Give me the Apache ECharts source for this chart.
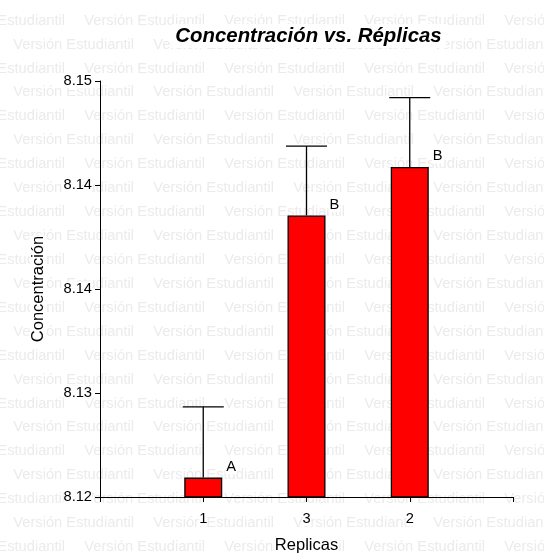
<!DOCTYPE html>
<html><head><meta charset="utf-8">
<script src="https://cdn.jsdelivr.net/npm/echarts@6/dist/echarts.min.js"></script>
<style>html,body{margin:0;padding:0;background:#fff}#c{width:544px;height:559px}</style>
</head><body><div id="c"></div>
<script>
const categories = ['1', '3', '2'];
const means = [8.1214, 8.1403, 8.1438];
const errors = [0.0051, 0.0050, 0.0050];
const groups = ['A', 'B', 'B'];
const yTickValues = [8.12, 8.1275, 8.135, 8.1425, 8.15];
const yTickLabels = ['8.12', '8.13', '8.14', '8.14', '8.15'];
const titleText = 'Concentración vs. Réplicas';
const xName = 'Replicas';
const yName = 'Concentración';
const watermark = 'Versión Estudiantil';

const FONT = '"Liberation Sans", Arial, Helvetica, sans-serif';
const xData = [''].concat(categories, ['']);
const barData = [null].concat(means, [null]);
const errData = categories.map((c, i) => [i + 1, means[i], means[i] + errors[i]]);

function labelFor(v) {
  let best = 0;
  for (let i = 1; i < yTickValues.length; i++) {
    if (Math.abs(yTickValues[i] - v) < Math.abs(yTickValues[best] - v)) best = i;
  }
  return yTickLabels[best];
}

const wm = [];
for (let k = 0; k <= 22; k++) {
  const y = 20.6 + 23.93 * k;
  const x0 = (k % 2 === 0) ? 84.3 - 140 : 13.3;
  for (let x = x0; x < 544; x += 140) {
    wm.push({
      type: 'text', x: x, y: y, z: -10, silent: true,
      style: { text: watermark, fill: '#ebebeb', fontSize: 14.7, fontFamily: FONT, verticalAlign: 'middle', align: 'left' }
    });
  }
}

const chart = echarts.init(document.getElementById('c'), null, { renderer: 'canvas' });
chart.setOption({
  animation: false,
  backgroundColor: '#fff',
  graphic: { elements: wm },
  title: {
    text: titleText, left: 304.5, top: 24, textAlign: 'center', padding: [1, 4],
    backgroundColor: '#fff',
    textStyle: { fontFamily: FONT, fontSize: 20.4, fontWeight: 'bold', fontStyle: 'italic', color: '#000', lineHeight: 22 }
  },
  grid: { left: 100, top: 81, width: 413, height: 423 },
  xAxis: {
    type: 'category', data: xData, boundaryGap: false,
    axisLine: { lineStyle: { color: '#000', width: 1 } },
    axisTick: { length: 5, interval: 0, lineStyle: { color: '#000' } },
    axisLabel: { interval: 0, margin: 14, color: '#000', fontSize: 14.67, fontFamily: FONT, backgroundColor: '#fff' },
    splitLine: { show: false },
    name: xName, nameLocation: 'middle', nameGap: 40,
    nameTextStyle: { color: '#000', fontSize: 16.5, fontFamily: FONT, backgroundColor: '#fff' }
  },
  yAxis: {
    type: 'value', min: 8.12, max: 8.15, position: 'left',
    axisLine: { show: true, lineStyle: { color: '#000', width: 1 } },
    axisTick: { show: true, length: 5, lineStyle: { color: '#000' }, customValues: yTickValues },
    axisLabel: { customValues: yTickValues, formatter: (v) => labelFor(v), color: '#000', fontSize: 14.67, fontFamily: FONT, margin: 8, backgroundColor: '#fff' },
    splitLine: { show: false },
    name: yName, nameLocation: 'middle', nameGap: 53,
    nameTextStyle: { color: '#000', fontSize: 16.5, fontFamily: FONT, backgroundColor: '#fff' }
  },
  series: [
    {
      type: 'bar', data: barData, barWidth: 38, z: 2,
      itemStyle: { color: '#ff0000', borderColor: '#000', borderWidth: 1.3 },
      label: {
        show: true, position: ['100%', 0], offset: [3, -11], align: 'left', verticalAlign: 'middle',
        formatter: (p) => groups[p.dataIndex - 1] || '',
        color: '#000', fontSize: 14.67, fontFamily: FONT, backgroundColor: '#fff', padding: [0, 1]
      }
    },
    {
      type: 'custom', data: errData, z: 3,
      encode: { x: 0, y: [1, 2] },
      renderItem: function (params, api) {
        const x = api.value(0);
        const base = api.coord([x, api.value(1)]);
        const top = api.coord([x, api.value(2)]);
        const half = 20.5;
        const st = { stroke: '#000', lineWidth: 1.3 };
        return {
          type: 'group', children: [
            { type: 'line', shape: { x1: base[0], y1: base[1], x2: top[0], y2: top[1] }, style: st },
            { type: 'line', shape: { x1: top[0] - half, y1: top[1], x2: top[0] + half, y2: top[1] }, style: st }
          ]
        };
      }
    }
  ]
});
</script>
</body></html>
